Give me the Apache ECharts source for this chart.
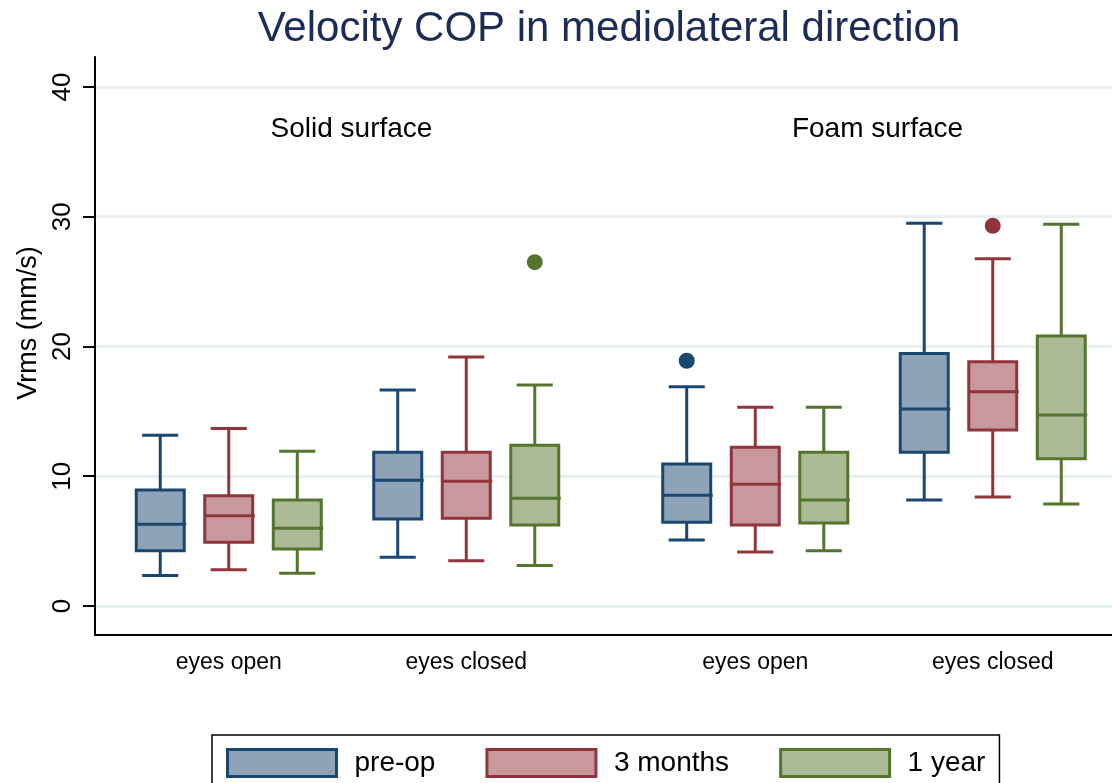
<!DOCTYPE html>
<html>
<head>
<meta charset="utf-8">
<title>Velocity COP in mediolateral direction</title>
<script src="https://cdn.jsdelivr.net/npm/echarts@6.0.0/dist/echarts.min.js"></script>
<style>
  html, body { margin: 0; padding: 0; background: #fff; }
  #chart { width: 1112px; height: 783px; }
</style>
</head>
<body>
<div id="chart"></div>
<script>
const FONT = '"Liberation Sans", Arial, Helvetica, sans-serif';

// categories
const conditions = ['eyes open', 'eyes closed'];
const timepoints = ['pre-op', '3 months', '1 year'];
const surfaceLabels = ['Solid surface', 'Foam surface'];
const yTicks = [0, 10, 20, 30, 40];

// box stats per condition: [min, Q1, median, Q3, max]
const solidPreop = [[2.36, 4.26, 6.30, 8.94, 13.16], [3.75, 6.71, 9.69, 11.85, 16.65]];
const solid3m    = [[2.80, 4.91, 6.96, 8.50, 13.67], [3.49, 6.76, 9.61, 11.85, 19.19]];
const solid1y    = [[2.52, 4.39, 5.99, 8.17, 11.92], [3.12, 6.24, 8.30, 12.38, 17.03]];
const foamPreop  = [[5.09, 6.45, 8.53, 10.94, 16.90], [8.17, 11.85, 15.18, 19.45, 29.49]];
const foam3m     = [[4.16, 6.24, 9.38, 12.23, 15.31], [8.40, 13.56, 16.52, 18.83, 26.77]];
const foam1y     = [[4.26, 6.40, 8.17, 11.85, 15.31], [7.86, 11.35, 14.72, 20.81, 29.42]];

// outside values, per timepoint: [conditionIndex, value]
const solidOutliers = [[], [], [[1, 26.5]]];
const foamOutliers  = [[[0, 18.9]], [[1, 29.3]], []];

const lineColors = ['#1a476f', '#90353b', '#55752f'];
const fillColors = ['#8ea3b8', '#c8999c', '#abb994'];

const chart = echarts.init(document.getElementById('chart'));

// three boxes side by side in each category band
function slotX(api, cat, slot) {
  const band = api.size([1, 0])[0];
  return api.coord([cat, 0])[0] + slot * band * 0.2885;
}

function boxSeries(name, stats, gridIdx, slot) {
  const stroke = lineColors[slot + 1];
  const fill = fillColors[slot + 1];
  return {
    type: 'custom',
    name: name,
    xAxisIndex: gridIdx + 1,
    yAxisIndex: gridIdx + 1,
    data: stats.map((s, i) => [i].concat(s)),
    encode: { x: 0, y: [1, 2, 3, 4, 5] },
    renderItem: function (params, api) {
      const cat = api.value(0);
      const band = api.size([1, 0])[0];
      const x = slotX(api, cat, slot);
      const y = [1, 2, 3, 4, 5].map(d => api.coord([cat, api.value(d)])[1]);
      const hw = band * 0.101;
      const cw = band * 0.076;
      const ln = (x1, y1, x2, y2) => ({
        type: 'line',
        shape: { x1: x1, y1: y1, x2: x2, y2: y2 },
        style: { stroke: stroke, lineWidth: 3 }
      });
      return {
        type: 'group',
        children: [
          ln(x, y[4], x, y[3]),
          ln(x, y[1], x, y[0]),
          ln(x - cw, y[4], x + cw, y[4]),
          ln(x - cw, y[0], x + cw, y[0]),
          {
            type: 'rect',
            shape: { x: x - hw, y: y[3], width: hw * 2, height: y[1] - y[3] },
            style: { fill: fill, stroke: stroke, lineWidth: 3 }
          },
          ln(x - hw, y[2], x + hw + 2, y[2])
        ]
      };
    }
  };
}

function outlierSeries(name, points, gridIdx, slot) {
  return {
    type: 'custom',
    name: name,
    xAxisIndex: gridIdx + 1,
    yAxisIndex: gridIdx + 1,
    data: points,
    encode: { x: 0, y: 1 },
    renderItem: function (params, api) {
      const cat = api.value(0);
      return {
        type: 'circle',
        shape: { cx: slotX(api, cat, slot), cy: api.coord([cat, api.value(1)])[1], r: 8 },
        style: { fill: lineColors[slot + 1] }
      };
    }
  };
}

const solidStats = [solidPreop, solid3m, solid1y];
const foamStats = [foamPreop, foam3m, foam1y];

const series = [];
timepoints.forEach((t, i) => {
  series.push(boxSeries(t, solidStats[i], 0, i - 1));
  series.push(boxSeries(t, foamStats[i], 1, i - 1));
});
timepoints.forEach((t, i) => {
  if (solidOutliers[i].length) series.push(outlierSeries(t, solidOutliers[i], 0, i - 1));
  if (foamOutliers[i].length) series.push(outlierSeries(t, foamOutliers[i], 1, i - 1));
});

const yMin = -2.235, yMax = 42.31;
const plotTop = 57, plotBottom = 148;

const hiddenY = (idx) => ({ type: 'value', gridIndex: idx, min: yMin, max: yMax, show: false });
const catX = (idx) => ({
  type: 'category', gridIndex: idx, data: conditions,
  axisLine: { show: false }, axisTick: { show: false },
  axisLabel: { fontSize: 23, color: '#000', fontFamily: FONT, margin: 16 }
});

chart.setOption({
  animation: false,
  backgroundColor: '#fff',
  title: {
    text: 'Velocity COP in mediolateral direction',
    left: 609, top: 8, padding: 0, textAlign: 'center',
    textStyle: { fontSize: 42, fontWeight: 'normal', color: '#1c2b57', fontFamily: FONT }
  },
  legend: {
    data: timepoints.map((t, i) => ({
      name: t, icon: 'rect',
      itemStyle: { color: fillColors[i], borderColor: lineColors[i], borderWidth: 3 }
    })),
    left: 212, top: 735, orient: 'horizontal',
    itemWidth: 109, itemHeight: 27, itemGap: 50,
    padding: [13, 14, 13, 14],
    borderColor: '#000', borderWidth: 1.5,
    selectedMode: false,
    textStyle: { fontSize: 28, color: '#000', fontFamily: FONT, padding: [0, 0, 0, 13] }
  },
  graphic: [
    { type: 'text', x: 351.5, y: 129, style: { text: surfaceLabels[0], fontSize: 28, fontFamily: FONT, fill: '#000', textAlign: 'center', textVerticalAlign: 'middle' } },
    { type: 'text', x: 877.5, y: 129, style: { text: surfaceLabels[1], fontSize: 28, fontFamily: FONT, fill: '#000', textAlign: 'center', textVerticalAlign: 'middle' } }
  ],
  grid: [
    { left: 95, right: 0, top: plotTop, bottom: plotBottom, outerBoundsMode: 'none' },
    { left: 110, width: 475, top: plotTop, bottom: plotBottom, outerBoundsMode: 'none' },
    { left: 636.5, width: 475, top: plotTop, bottom: plotBottom, outerBoundsMode: 'none' }
  ],
  xAxis: [
    {
      type: 'value', gridIndex: 0, min: 0, max: 1,
      axisLine: { show: true, onZero: false, lineStyle: { color: '#000', width: 2 } },
      axisTick: { show: false }, axisLabel: { show: false }, splitLine: { show: false }
    },
    catX(1),
    catX(2)
  ],
  yAxis: [
    {
      type: 'value', gridIndex: 0, min: yMin, max: yMax,
      name: 'Vrms (mm/s)', nameLocation: 'middle', nameGap: 50,
      nameTextStyle: { fontSize: 27, color: '#000', fontFamily: FONT, padding: [0, 0, 0, 46] },
      axisLine: { show: true, onZero: false, lineStyle: { color: '#000', width: 2 } },
      axisTick: { show: true, length: 12, customValues: yTicks, lineStyle: { color: '#000', width: 2 } },
      axisLabel: { rotate: 90, fontSize: 26, color: '#000', fontFamily: FONT, margin: 19, customValues: yTicks },
      splitLine: { show: true, lineStyle: { color: '#e9f0f2', width: 3 } }
    },
    hiddenY(1),
    hiddenY(2)
  ],
  series: series
});
</script>
</body>
</html>
